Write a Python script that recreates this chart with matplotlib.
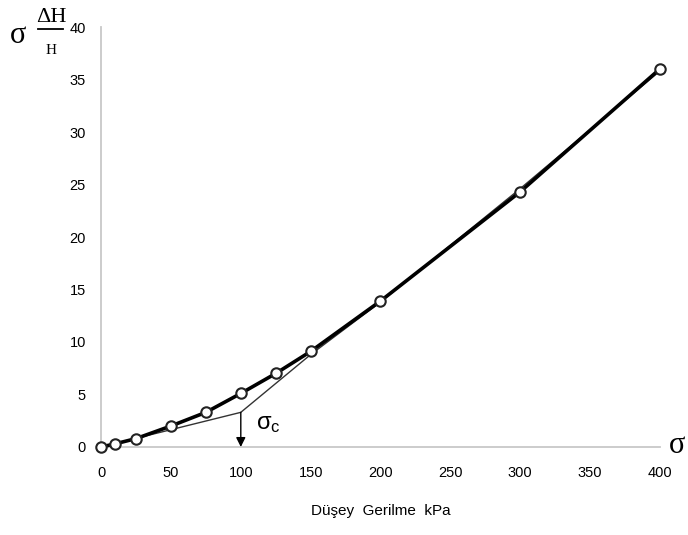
import matplotlib
matplotlib.use('Agg')
import matplotlib.pyplot as plt
from matplotlib.lines import Line2D

# stress (kPa) vs sigma*dH/H
stress = [0, 10, 25, 50, 75, 100, 125, 150, 200, 300, 400]
strain_work = [0, 0.3, 0.8, 2.0, 3.3, 5.1, 7.0, 9.1, 13.9, 24.3, 36.0]

# construction line for sigma_c
constr_x = [0, 100, 150, 200, 300, 400]
constr_y = [0, 3.3, 8.8, 13.8, 24.6, 35.8]

sigma_c = 100
sigma_c_y = 3.3

x_ticks = [0, 50, 100, 150, 200, 250, 300, 350, 400]
y_ticks = [0, 5, 10, 15, 20, 25, 30, 35, 40]

plt.rcParams['font.family'] = ['Liberation Sans', 'DejaVu Sans']
plt.rcParams['mathtext.default'] = 'regular'

fig = plt.figure(figsize=(6.88, 5.35), dpi=100)
ax = fig.add_axes([0.147, 0.1645, 0.812, 0.785])

ax.plot(constr_x, constr_y, color='#333333', linewidth=1.0, zorder=2)
ax.plot(stress, strain_work, color='black', linewidth=2.6, zorder=3,
        marker='o', markersize=7.5, markerfacecolor='white',
        markeredgecolor='#222222', markeredgewidth=1.5, clip_on=False)

ax.annotate('', xy=(sigma_c, 0), xytext=(sigma_c, sigma_c_y),
            arrowprops=dict(arrowstyle='-|>', color='black', lw=1.0,
                            mutation_scale=14, shrinkA=0, shrinkB=0), zorder=4)
ax.text(sigma_c + 11, 2.2, 'σ$_{c}$', fontsize=17, va='center')

ax.set_xlim(0, 400)
ax.set_ylim(0, 40)
ax.set_xticks(x_ticks)
ax.set_yticks(y_ticks)
ax.tick_params(length=0, labelsize=10.5, pad=11)
ax.tick_params(axis='x', pad=14)
for s in ['top', 'right']:
    ax.spines[s].set_visible(False)
for s in ['left', 'bottom']:
    ax.spines[s].set_color('#c8c8c8')
    ax.spines[s].set_linewidth(1.3)
ax.set_xlabel('Düşey  Gerilme  kPa', fontsize=11, labelpad=17)

# y axis label: sigma * dH / H
fig.text(0.015, 0.933, 'σ', fontsize=22, va='center', family='Liberation Serif')
fig.text(0.074, 0.968, 'ΔH', fontsize=16, va='center', ha='center', family='Liberation Serif')
fig.add_artist(Line2D([0.055, 0.092], [0.946, 0.946], color='black', lw=1.3))
fig.text(0.074, 0.905, 'H', fontsize=11, va='center', ha='center', family='Liberation Serif')
fig.text(0.972, 0.168, 'σ', fontsize=22, va='center', family='Liberation Serif')

fig.savefig('out.png', dpi=100)
